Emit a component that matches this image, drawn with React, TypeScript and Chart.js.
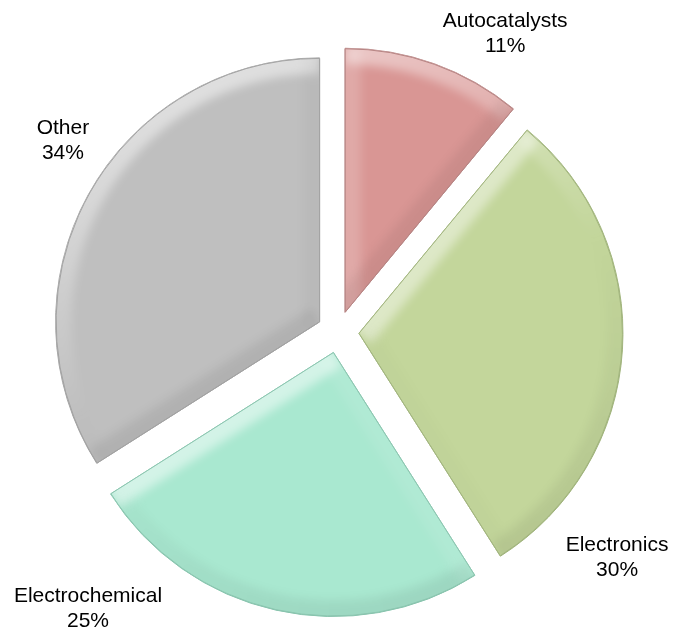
import { useEffect, useRef } from "react";
import { Chart, registerables } from "chart.js";

Chart.register(...registerables);

// Market share by end use
const categories = ["Autocatalysts", "Electronics", "Electrochemical", "Other"];
const shares = [11, 30, 25, 34];

// Slice styling
const sliceColors = ["#D99694", "#C3D69B", "#A9E8D0", "#BFBFBF"];
const edgeColors = ["#B88584", "#A3B67F", "#8CC7B1", "#A3A3A3"];

// Geometry of the exploded pie (pixels)
const PIE_RADIUS = 264;
const EXPLODE = 21;
const BEVEL = 16;

// Label anchors: first-line baseline, relative to the pie centre in radius units
const labelAnchors: [number, number][] = [
  [0.633, -1.155],
  [1.057, 0.83],
  [-0.947, 1.023],
  [-1.042, -0.75],
];
const LABEL_FONT = '21px "Liberation Sans", Arial, sans-serif';
const LINE_GAP = 25;

const LIGHT = (() => {
  const lx = -0.4;
  const ly = -1;
  const l = Math.hypot(lx, ly);
  return [lx / l, ly / l];
})();

function shadeFor(nx: number, ny: number): string {
  const d = nx * LIGHT[0] + ny * LIGHT[1];
  return d >= 0
    ? `rgba(255,255,255,${(0.5 * d).toFixed(3)})`
    : `rgba(0,0,0,${(0.07 * -d).toFixed(3)})`;
}

function wedgePath(ctx: CanvasRenderingContext2D, cx: number, cy: number, r: number, a0: number, a1: number) {
  ctx.beginPath();
  ctx.moveTo(cx, cy);
  ctx.arc(cx, cy, r, a0, a1);
  ctx.closePath();
}

// Soft bevel: each edge gets a band whose shade depends on how it faces the light
function paintBevel(o: CanvasRenderingContext2D, cx: number, cy: number, r: number, a0: number, a1: number) {
  o.lineCap = "butt";
  o.lineWidth = BEVEL * 2;
  const n = Math.max(8, Math.ceil((a1 - a0) / 0.03));
  for (let k = 0; k < n; k++) {
    const t0 = a0 + ((a1 - a0) * k) / n;
    const t1 = a0 + ((a1 - a0) * (k + 1)) / n;
    const tm = (t0 + t1) / 2;
    o.strokeStyle = shadeFor(Math.cos(tm), Math.sin(tm));
    o.beginPath();
    o.arc(cx, cy, r, t0, t1);
    o.stroke();
  }
  const sides: [number, number][] = [
    [a0, -1],
    [a1, 1],
  ];
  for (const [a, sgn] of sides) {
    const na = a + (sgn * Math.PI) / 2;
    o.strokeStyle = shadeFor(Math.cos(na), Math.sin(na));
    o.beginPath();
    o.moveTo(cx, cy);
    o.lineTo(cx + r * Math.cos(a), cy + r * Math.sin(a));
    o.stroke();
  }
}

let scratch: HTMLCanvasElement | null = null;

const explodedBevelPie = {
  id: "explodedBevelPie",
  beforeDatasetsDraw(chart: any) {
    const ctx: CanvasRenderingContext2D = chart.ctx;
    const meta = chart.getDatasetMeta(0);
    if (!scratch) scratch = document.createElement("canvas");
    scratch.width = chart.width;
    scratch.height = chart.height;
    const o = scratch.getContext("2d") as CanvasRenderingContext2D;

    meta.data.forEach((arc: any, i: number) => {
      const { x, y, startAngle, endAngle, outerRadius } = arc;
      const mid = (startAngle + endAngle) / 2;
      const dx = Math.cos(mid) * EXPLODE;
      const dy = Math.sin(mid) * EXPLODE;
      const cx = x + dx;
      const cy = y + dy;

      ctx.save();
      ctx.translate(dx, dy);
      arc.draw(ctx);
      ctx.restore();

      o.clearRect(0, 0, scratch!.width, scratch!.height);
      paintBevel(o, cx, cy, outerRadius, startAngle, endAngle);

      ctx.save();
      wedgePath(ctx, cx, cy, outerRadius, startAngle, endAngle);
      ctx.clip();
      ctx.filter = "blur(5px)";
      ctx.drawImage(scratch!, 0, 0);
      ctx.restore();

      ctx.save();
      wedgePath(ctx, cx, cy, outerRadius - 0.5, startAngle, endAngle);
      ctx.lineWidth = 1;
      ctx.strokeStyle = edgeColors[i];
      ctx.lineJoin = "round";
      ctx.stroke();
      ctx.restore();
    });
    return false;
  },
  afterDraw(chart: any) {
    const ctx: CanvasRenderingContext2D = chart.ctx;
    const arcs = chart.getDatasetMeta(0).data;
    if (!arcs.length) return;
    const { x, y, outerRadius } = arcs[0];
    ctx.save();
    ctx.font = LABEL_FONT;
    ctx.fillStyle = "#000000";
    ctx.textAlign = "center";
    ctx.textBaseline = "alphabetic";
    arcs.forEach((_: any, i: number) => {
      const [fx, fy] = labelAnchors[i];
      const lx = x + fx * outerRadius;
      const ly = y + fy * outerRadius;
      ctx.fillText(String(chart.data.labels[i]), lx, ly);
      ctx.fillText(`${chart.data.datasets[0].data[i]}%`, lx, ly + LINE_GAP);
    });
    ctx.restore();
  },
};

export default function App() {
  const canvasRef = useRef<HTMLCanvasElement | null>(null);

  useEffect(() => {
    if (!canvasRef.current) return;
    const chart = new Chart(canvasRef.current, {
      type: "pie",
      data: {
        labels: categories,
        datasets: [
          {
            data: shares,
            backgroundColor: sliceColors,
            borderColor: edgeColors,
            borderWidth: 1,
            radius: PIE_RADIUS,
            offset: 0,
          } as any,
        ],
      },
      options: {
        responsive: false,
        maintainAspectRatio: false,
        animation: false,
        events: [],
        layout: { padding: { left: 0, right: 1, top: 33, bottom: 0 } },
        plugins: {
          legend: { display: false },
          tooltip: { enabled: false },
          title: { display: false },
        },
      },
      plugins: [explodedBevelPie],
    });
    return () => chart.destroy();
  }, []);

  return (
    <div style={{ position: "absolute", left: 0, top: 0, width: 677, height: 631, background: "#ffffff" }}>
      <canvas ref={canvasRef} width={677} height={631} style={{ display: "block" }} />
    </div>
  );
}
